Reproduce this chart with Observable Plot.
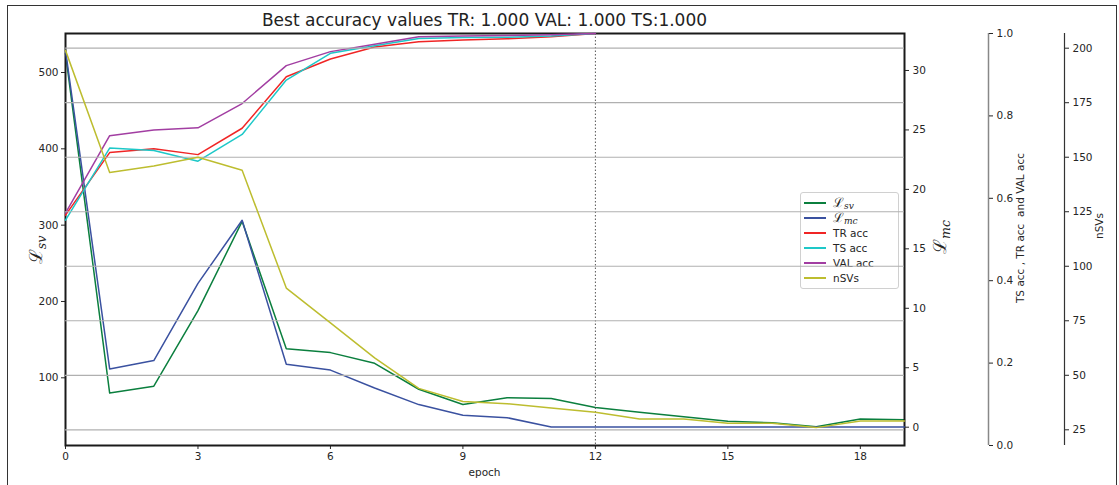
<!DOCTYPE html>
<html><head><meta charset="utf-8">
<script src="https://cdn.jsdelivr.net/npm/d3@7"></script>
<script src="https://cdn.jsdelivr.net/npm/@observablehq/plot@0.6"></script>
<style>
body{margin:0;background:#fff;font-family:"DejaVu Sans",sans-serif;}
#wrap{position:relative;width:1119px;height:485px;overflow:hidden;background:#fff;}
#wrap svg{position:absolute;left:0;top:0;overflow:visible;}
.lbl{position:absolute;white-space:nowrap;color:#262626;font-family:"DejaVu Sans",sans-serif;}
.rot{transform:translate(-50%,-50%) rotate(-90deg);}
.math{font-family:"DejaVu Serif",serif;font-style:normal;}
.math sub{font-size:70%;vertical-align:-0.25em;font-style:italic;}
#legend{position:absolute;background:rgba(255,255,255,0.8);border:1px solid #d0d0d0;border-radius:3px;font-size:10.5px;color:#262626;}
#legend .row{display:flex;align-items:center;height:15px;}
#legend .sw{width:22px;height:0;border-top:2px solid;margin:0 7px 0 3px;}
</style></head><body><div id="wrap"></div>
<script>
// ---- data ----
const epochs = [0,1,2,3,4,5,6,7,8,9,10,11,12,13,14,15,16,17,18,19];
const lossSV = [525,80,89,188,305,138,133,119,85,65,74,73,61,55,49,43,41,36,46,45];
const lossMC = [31.7,4.9,5.6,12.1,17.4,5.3,4.8,3.3,1.9,1.0,0.8,0.02,0.02,0.02,0.02,0.02,0.02,0.02,0.02,0.02];
const nSVs = [199,143,146,150,144,90,74,58,44,38,37,35,33,30,30,28,28,26,29,29];
const accEpochs = [0,1,2,3,4,5,6,7,8,9,10,11,12];
const trAcc = [0.559,0.711,0.720,0.706,0.770,0.895,0.938,0.967,0.980,0.984,0.987,0.992,1.0];
const tsAcc = [0.547,0.722,0.716,0.690,0.755,0.887,0.952,0.970,0.988,0.990,0.991,0.994,1.0];
const valAcc = [0.564,0.752,0.766,0.771,0.830,0.922,0.956,0.974,0.992,0.994,0.995,0.997,1.0];
const bestEpoch = 12;
const xTicks = [0,3,6,9,12,15,18];
const svTicks = [100,200,300,400,500];
const mcTicks = [0,5,10,15,20,25,30];
const accTicks = [0,0.2,0.4,0.6,0.8,1.0];
const nsvTicks = [25,50,75,100,125,150,175,200];
const titleText = "Best accuracy values TR: 1.000 VAL: 1.000 TS:1.000";
const colors = {sv:"#0b7f3e", mc:"#3a51a0", tr:"#f02525", ts:"#1ec8c8", val:"#a23ea2", nsv:"#bdbd2f"};
const legendItems = [
  {key:"sv", html:'<span class="math" style="font-size:13px">ℒ<sub>sv</sub></span>'},
  {key:"mc", html:'<span class="math" style="font-size:13px">ℒ<sub>mc</sub></span>'},
  {key:"tr", html:"TR acc"},
  {key:"ts", html:"TS acc"},
  {key:"val", html:"VAL acc"},
  {key:"nsv", html:"nSVs"}
];

// ---- tables ----
const rows = epochs.map((e,i)=>({epoch:e, sv:lossSV[i], mc:lossMC[i], nsv:nSVs[i]}));
const accRows = accEpochs.map((e,i)=>({epoch:e, tr:trAcc[i], ts:tsAcc[i], val:valAcc[i]}));

const W=1119, H=485;
const base = {width:W, height:H, marginLeft:65, marginRight:215, marginTop:33, marginBottom:40,
  style:{background:"transparent", overflow:"visible", fontFamily:"DejaVu Sans, sans-serif", fontSize:"10.5px", color:"#262626"}};
const xs = {domain:[0,19], axis:null};
const wrap = document.getElementById("wrap");

// figure frame
const fr = document.createElement("div");
fr.style.cssText="position:absolute;left:7px;top:5px;width:1110px;height:520px;border:1px solid #333;border-bottom:none;box-sizing:border-box;";
wrap.appendChild(fr);

// layer 1: L_sv
wrap.appendChild(Plot.plot({...base, x:xs, y:{domain:[11.3,551.1], axis:null}, marks:[
  Plot.line(rows,{x:"epoch", y:"sv", stroke:colors.sv, strokeWidth:1.5}),
  Plot.ruleX([bestEpoch],{stroke:"#555", strokeWidth:1, strokeDasharray:"1.5,2"}),
  Plot.axisX(xTicks,{anchor:"bottom", tickSize:4, tickPadding:3, label:null, fontSize:10.5}),
  Plot.axisY(svTicks,{anchor:"left", tickSize:4, tickPadding:3, label:null, fontSize:10.5}),
  Plot.frame({stroke:"#1a1a1a", strokeWidth:2})
]}));

// layer 2: L_mc
wrap.appendChild(Plot.plot({...base, x:xs, y:{domain:[-1.54,33.11], axis:null}, marks:[
  Plot.line(rows,{x:"epoch", y:"mc", stroke:colors.mc, strokeWidth:1.5}),
  Plot.axisY(mcTicks,{anchor:"right", tickSize:4, tickPadding:4, label:null, fontSize:10.5})
]}));

// layer 3: accuracies
wrap.appendChild(Plot.plot({...base, x:xs, y:{domain:[0,1], axis:null}, marks:[
  Plot.line(accRows,{x:"epoch", y:"tr", stroke:colors.tr, strokeWidth:1.5}),
  Plot.line(accRows,{x:"epoch", y:"ts", stroke:colors.ts, strokeWidth:1.5}),
  Plot.line(accRows,{x:"epoch", y:"val", stroke:colors.val, strokeWidth:1.5}),
  Plot.ruleX([19],{dx:84, stroke:"#888", strokeWidth:1.5}),
  Plot.axisY(accTicks,{anchor:"right", dx:84, tickSize:4, tickPadding:4, tickFormat:d3.format(".1f"), label:null, fontSize:10.5})
]}));

// legend
const lg = document.createElement("div");
lg.id="legend";
lg.style.cssText+="left:800px;top:192px;width:97px;padding:2px 0 3px 0;";
legendItems.forEach(it=>{
  const r=document.createElement("div"); r.className="row";
  r.innerHTML=`<div class="sw" style="border-color:${colors[it.key]}"></div><div>${it.html}</div>`;
  lg.appendChild(r);
});
wrap.appendChild(lg);

// layer 4: nSVs with grid
wrap.appendChild(Plot.plot({...base, x:xs, y:{domain:[17.8,206.74], axis:null}, marks:[
  Plot.gridY(nsvTicks,{stroke:"#b0b0b0", strokeOpacity:1, strokeWidth:1.2}),
  Plot.line(rows,{x:"epoch", y:"nsv", stroke:colors.nsv, strokeWidth:1.5}),
  Plot.ruleX([19],{dx:160, stroke:"#333", strokeWidth:1.2}),
  Plot.axisY(nsvTicks,{anchor:"right", dx:160, tickSize:4, tickPadding:4, label:null, fontSize:10.5})
]}));

// text labels
function label(html, x, y, cls, extra){
  const d=document.createElement("div"); d.className="lbl "+(cls||""); d.innerHTML=html;
  d.style.left=x+"px"; d.style.top=y+"px"; if(extra) d.style.cssText+=extra;
  if(!(cls||"").includes("rot")) d.style.transform="translate(-50%,-50%)";
  wrap.appendChild(d);
}
label(titleText, 484.5, 20, "", "font-size:17px;color:#222;");
label("epoch", 484.5, 472, "", "font-size:10.5px;");
label('<span class="math">ℒ<sub>sv</sub></span>', 36, 250, "rot", "font-size:18px;");
label('<span class="math">ℒ<sub>mc</sub></span>', 940, 237, "rot", "font-size:18px;");
label("TS acc , TR acc  and VAL acc", 1020, 228, "rot", "font-size:10.5px;white-space:pre;");
label("nSVs", 1099, 226, "rot", "font-size:10.5px;");
</script></body></html>
